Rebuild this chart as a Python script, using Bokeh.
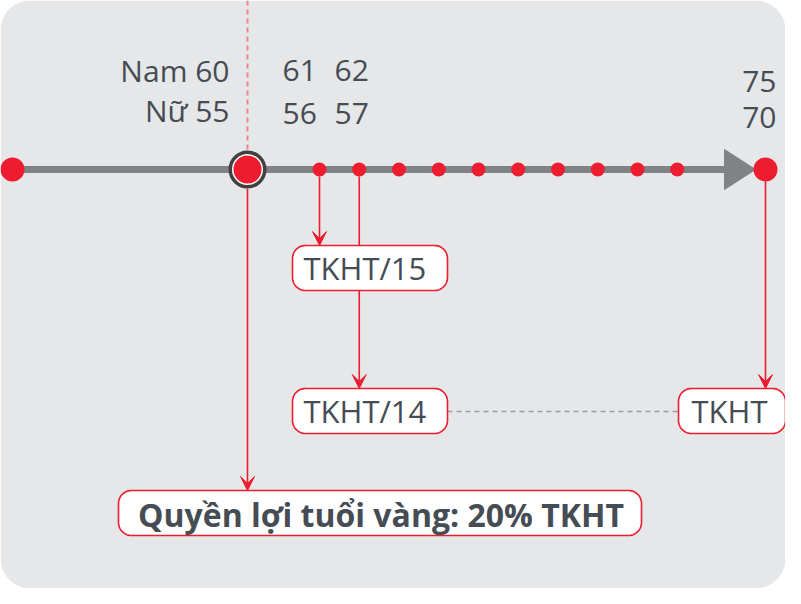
import numpy as np
from bokeh.plotting import figure
from bokeh.models import Range1d, Arrow, VeeHead
from bokeh.core.properties import value
from bokeh.embed import file_html
from bokeh.resources import INLINE

# ---------------- data ----------------
male_row = ["Nam 60", "61", "62", "75"]
female_row = ["Nữ 55", "56", "57", "70"]
start_age = 60                      # male retirement age (highlighted point)
step_ages = [61, 62, 63, 64, 65, 66, 67, 68, 69, 70]
end_age = 75
benefit_boxes = ["TKHT/15", "TKHT/14", "TKHT"]
golden_label = "Quyền lợi tuổi vàng: 20% TKHT"

# ---------------- style / layout ----------------
RED = "#ed1c2e"
DASH_RED = "#ee8390"
TEXT = "#454c53"
BG = "#e6e7e8"
AXIS = "#808285"
RING = "#414042"
FONT = "Open Sans"
TY = -11.5   # baseline correction for svg text

W, H = 785, 588
OX, OY = 8, 8
AXIS_Y = 177
LEFT_X = 20
START_X = 255
STEP_X0, STEP_DX = 327, 39.75
END_X = 773
ARROW_BASE, ARROW_TIP, ARROW_HALF = 732, 763, 20


def age_x(age):
    if age == start_age:
        return START_X
    if age == end_age:
        return END_X
    return STEP_X0 + (age - step_ages[0]) * STEP_DX


def rrect(x0, y0, x1, y1, r, n=14):
    xs, ys = [], []
    corners = [(x1 - r, y0 + r, -90, 0), (x1 - r, y1 - r, 0, 90),
               (x0 + r, y1 - r, 90, 180), (x0 + r, y0 + r, 180, 270)]
    for cx, cy, a0, a1 in corners:
        t = np.radians(np.linspace(a0, a1, n))
        xs.extend(cx + r * np.cos(t))
        ys.extend(cy + r * np.sin(t))
    return xs, ys


p = figure(width=W, height=H, x_range=Range1d(OX, OX + W), y_range=Range1d(OY + H, OY),
           output_backend="svg", toolbar_location=None, min_border=0,
           x_axis_location=None, y_axis_location=None)
p.grid.visible = False
p.outline_line_color = None
p.background_fill_color = "white"
p.border_fill_color = "white"

# gray rounded panel
gx, gy = rrect(OX, OY, OX + W, OY + H, 30)
p.patch(gx, gy, fill_color=BG, line_color=None)

# dashed marker line above start point
p.segment(x0=[START_X], y0=[OY], x1=[START_X], y1=[AXIS_Y - 19],
          line_color=DASH_RED, line_width=2, line_dash="5 4")

# timeline
p.segment(x0=[LEFT_X], y0=[AXIS_Y], x1=[ARROW_BASE + 2], y1=[AXIS_Y], line_color=AXIS, line_width=7)
p.patch([ARROW_BASE, ARROW_TIP, ARROW_BASE],
        [AXIS_Y - ARROW_HALF, AXIS_Y, AXIS_Y + ARROW_HALF], fill_color=AXIS, line_color=AXIS,
        line_width=1, line_join="round")

# dots
p.scatter([LEFT_X, END_X], [AXIS_Y, AXIS_Y], size=24, fill_color=RED, line_color=None)
p.scatter([age_x(a) for a in step_ages], [AXIS_Y] * len(step_ages), size=14,
          fill_color=RED, line_color=None)
p.scatter([START_X], [AXIS_Y], size=34.5, fill_color="white", line_color=RING, line_width=3.5)
p.scatter([START_X], [AXIS_Y], size=28, fill_color=RED, line_color=None)

# boxes
boxes = [(300, 253, 455, 298), (300, 396, 455, 441), (686, 396, 793, 441)]
# connector between TKHT/14 and TKHT
p.segment(x0=[boxes[1][2]], y0=[419], x1=[boxes[2][0]], y1=[419],
          line_color="#9a9b9d", line_width=1.5, line_dash="5 4")
# line from age 62 through first box
p.segment(x0=[age_x(62)], y0=[AXIS_Y + 7], x1=[age_x(62)], y1=[boxes[0][1]],
          line_color=RED, line_width=1.6)

for (x0, y0, x1, y1) in boxes:
    bx, by = rrect(x0, y0, x1, y1, 13)
    p.patch(bx, by, fill_color="white", line_color=RED, line_width=1.6)

gb = (126, 498, 649, 543)
bx, by = rrect(*gb, 13)
p.patch(bx, by, fill_color="white", line_color=RED, line_width=1.6)

# box texts
p.text(x=[b[0] + 11 for b in boxes[:2]] + [boxes[2][0] + 13],
       y=[b[1] + 34 + TY for b in boxes], text=benefit_boxes,
       text_font=value(FONT), text_font_size="31px", text_color=TEXT,
       text_align="left", text_baseline="alphabetic")
p.text(x=[(gb[0] + gb[2]) / 2 + 1], y=[533 + TY], text=[golden_label],
       text_font=value(FONT), text_font_size="32px", text_font_style="bold",
       text_color=TEXT, text_align="center", text_baseline="alphabetic")

# age labels
p.text(x=[237], y=[89 + TY], text=[male_row[0]], text_font=value(FONT), text_font_size="30px",
       text_color=TEXT, text_align="right", text_baseline="alphabetic")
p.text(x=[237], y=[129 + TY], text=[female_row[0]], text_font=value(FONT), text_font_size="30px",
       text_color=TEXT, text_align="right", text_baseline="alphabetic")
p.text(x=[290, 342], y=[89 + TY, 89 + TY], text=male_row[1:3], text_font=value(FONT),
       text_font_size="30px", text_color=TEXT, text_align="left", text_baseline="alphabetic")
p.text(x=[290, 342], y=[132 + TY, 132 + TY], text=female_row[1:3], text_font=value(FONT),
       text_font_size="30px", text_color=TEXT, text_align="left", text_baseline="alphabetic")
p.text(x=[784, 784], y=[100 + TY, 136 + TY], text=[male_row[3], female_row[3]],
       text_font=value(FONT), text_font_size="30px", text_color=TEXT, text_align="right",
       text_baseline="alphabetic")

# arrows
def arrow(x, y0, y1):
    p.add_layout(Arrow(end=VeeHead(size=14, fill_color=RED, line_color=RED, line_width=1),
                       x_start=x, y_start=y0, x_end=x, y_end=y1,
                       line_color=RED, line_width=1.6))

arrow(age_x(61), AXIS_Y + 7, boxes[0][1])
arrow(age_x(62), boxes[0][3], boxes[1][1])
arrow(END_X, AXIS_Y + 12, boxes[2][1])
arrow(START_X, AXIS_Y + 19, gb[1])

open("out.html", "w").write(file_html(p, INLINE))
